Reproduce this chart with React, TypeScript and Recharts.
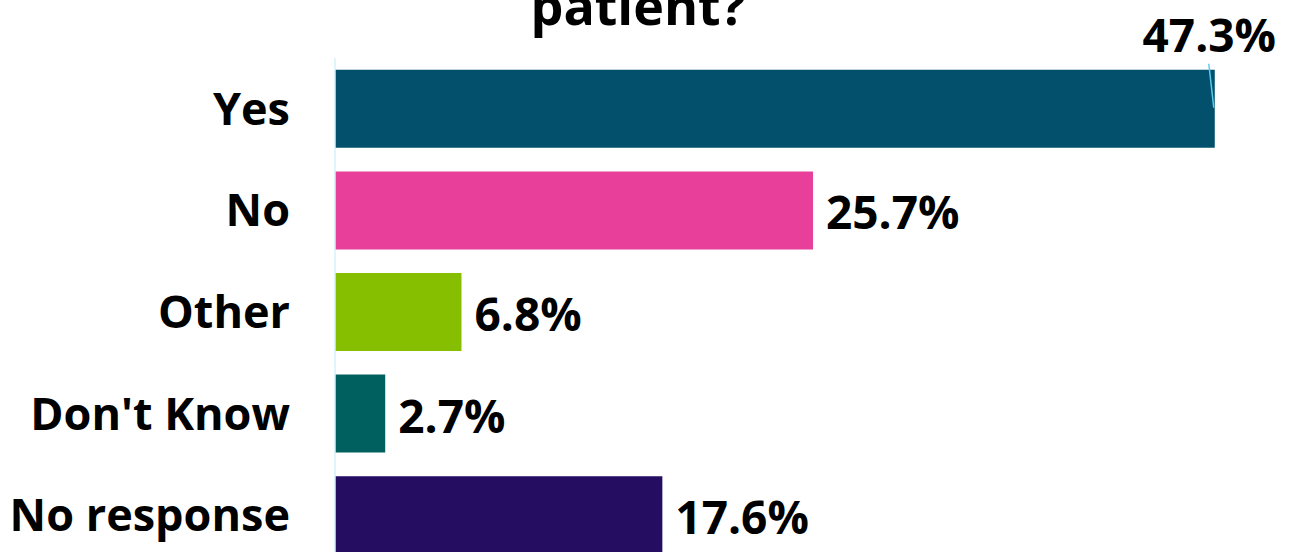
import React from "react";
import { BarChart, Bar, XAxis, YAxis, Cell, LabelList } from "recharts";

const categories = ["Yes", "No", "Other", "Don't Know", "No response"];
const percentages = [47.3, 25.7, 6.8, 2.7, 17.6];
const valueLabels = ["47.3%", "25.7%", "6.8%", "2.7%", "17.6%"];
const barColors = ["#02506B", "#E8409A", "#86BE00", "#006060", "#250E62"];
const titleText = "patient?";

const data = categories.map((name, i) => ({ name, value: percentages[i], label: valueLabels[i] }));

const FONT = "'Open Sans', 'Noto Sans', sans-serif";

const ValueLabel = (props: any) => {
  const { x, y, width, height, index } = props;
  const text = valueLabels[index];
  const end = x + width;
  if (index === 0) {
    return (
      <g>
        <line x1={end - 6} y1={y - 6} x2={end - 1} y2={y + 38} stroke="#5CCAF0" strokeWidth={1.5} />
        <text x={end - 5.5} y={y - 36} textAnchor="middle" dominantBaseline="central" fontFamily={FONT} fontWeight={700} fontSize={46} fill="#000">
          {text}
        </text>
      </g>
    );
  }
  return (
    <text x={end + 13} y={y + height / 2 + 1} textAnchor="start" dominantBaseline="central" fontFamily={FONT} fontWeight={700} fontSize={46} fill="#000">
      {text}
    </text>
  );
};

export default function App() {
  return (
    <div style={{ position: "absolute", left: 0, top: 0, width: 1292, height: 552, overflow: "hidden", background: "#fff" }}>
      <div style={{ position: "absolute", left: 0, top: 0 }}>
        <BarChart
          width={1292}
          height={570}
          data={data}
          layout="vertical"
          margin={{ top: 58, right: 27, bottom: 4, left: 0 }}
          barCategoryGap="11.6%"
        >
          <XAxis type="number" domain={[0, 50]} hide />
          <YAxis
            type="category"
            dataKey="name"
            width={335}
            tickSize={0}
            tickMargin={45}
            axisLine={{ stroke: "#D6F0FB", strokeWidth: 1.5 }}
            tickLine={false}
            tick={{ fontFamily: FONT, fontWeight: 700, fontSize: 45, fill: "#000" }}
          />
          <Bar dataKey="value" isAnimationActive={false}>
            {data.map((d, i) => (
              <Cell key={d.name} fill={barColors[i]} />
            ))}
            <LabelList dataKey="label" content={ValueLabel} />
          </Bar>
        </BarChart>
      </div>
      <svg width={1292} height={60} style={{ position: "absolute", left: 0, top: 0 }}>
        <text x={638} y={25} textAnchor="middle" fontFamily={FONT} fontWeight={700} fontSize={52} fill="#000">
          {titleText}
        </text>
      </svg>
    </div>
  );
}
